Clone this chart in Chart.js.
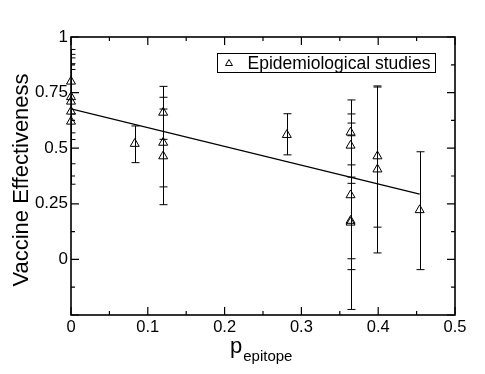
<!DOCTYPE html>
<html>
<head>
<meta charset="utf-8">
<script src="https://cdn.jsdelivr.net/npm/chart.js@4/dist/chart.umd.min.js"></script>
<style>
  html, body { margin: 0; padding: 0; background: #fff; }
  canvas { display: block; }
</style>
</head>
<body>
<canvas id="c" width="485" height="374"></canvas>
<script>
// ---- data ----
const pEpitope      = [0, 0, 0, 0, 0, 0.083, 0.12, 0.12, 0.12, 0.281, 0.364, 0.364, 0.364, 0.364, 0.364, 0.399, 0.399, 0.454];
const effectiveness = [0.80, 0.73, 0.71, 0.665, 0.62, 0.52, 0.66, 0.525, 0.464, 0.56, 0.571, 0.512, 0.289, 0.174, 0.166, 0.464, 0.405, 0.222];
const lowerCI       = [0.654, 0.539, 0.569, 0.43, 0.338, 0.435, 0.54, 0.326, 0.246, 0.47, 0.425, 0.37, -0.046, 0.003, -0.225, 0.145, 0.029, -0.046];
const upperCI       = [0.944, 0.922, 0.854, 0.906, 0.88, 0.60, 0.778, 0.729, 0.676, 0.655, 0.717, 0.654, 0.613, 0.342, 0.556, 0.775, 0.78, 0.484];
const fitX = [0, 0.454];
const fitY = [0.677, 0.293];
const xTickValues = [0, 0.1, 0.2, 0.3, 0.4, 0.5];
const xTickLabels = ['0', '0.1', '0.2', '0.3', '0.4', '0.5'];
const yTickValues = [-0.25, 0, 0.25, 0.5, 0.75, 1];
const yTickLabels = ['', '0', '0.25', '0.5', '0.75', '1'];
const xMinorTicks = [0.05, 0.15, 0.25, 0.35, 0.45];
const yMinorTicks = [-0.125, 0.125, 0.375, 0.625, 0.875];
const seriesLabel = 'Epidemiological studies';
const xTitleMain = 'p';
const xTitleSub = 'epitope';
const yTitle = 'Vaccine Effectiveness';

const FONT = '"Liberation Sans", Arial, Helvetica, sans-serif';

function labelFor(values, labels, v) {
  for (let i = 0; i < values.length; i++) if (Math.abs(values[i] - v) < 1e-6) return labels[i];
  return '';
}

const decor = {
  id: 'decor',
  beforeDatasetsDraw(chart) {
    const ctx = chart.ctx, a = chart.chartArea;
    const xs = chart.scales.x, ys = chart.scales.y;
    ctx.save();
    ctx.beginPath();
    ctx.rect(a.left, a.top, a.right - a.left, a.bottom - a.top);
    ctx.clip();
    ctx.strokeStyle = '#000';
    ctx.lineWidth = 1;
    const cap = 4;
    for (let i = 0; i < pEpitope.length; i++) {
      const px = Math.round(xs.getPixelForValue(pEpitope[i])) + 0.5;
      const y1 = ys.getPixelForValue(lowerCI[i]);
      const y2 = ys.getPixelForValue(upperCI[i]);
      ctx.beginPath();
      ctx.moveTo(px, y1); ctx.lineTo(px, y2);
      ctx.moveTo(px - cap, y1); ctx.lineTo(px + cap, y1);
      ctx.moveTo(px - cap, y2); ctx.lineTo(px + cap, y2);
      ctx.stroke();
    }
    ctx.restore();
  },
  afterDraw(chart) {
    const ctx = chart.ctx, a = chart.chartArea;
    const xs = chart.scales.x, ys = chart.scales.y;
    ctx.save();
    ctx.strokeStyle = '#000';
    // ticks (inward, all four sides)
    ctx.lineWidth = 1.2;
    const major = 8, minor = 4;
    const tickX = (v, len) => {
      const px = xs.getPixelForValue(v);
      ctx.beginPath();
      ctx.moveTo(px, a.bottom); ctx.lineTo(px, a.bottom - len);
      ctx.moveTo(px, a.top); ctx.lineTo(px, a.top + len);
      ctx.stroke();
    };
    const tickY = (v, len) => {
      const py = ys.getPixelForValue(v);
      ctx.beginPath();
      ctx.moveTo(a.left, py); ctx.lineTo(a.left + len, py);
      ctx.moveTo(a.right, py); ctx.lineTo(a.right - len, py);
      ctx.stroke();
    };
    xTickValues.forEach(v => tickX(v, major));
    xMinorTicks.forEach(v => tickX(v, minor));
    yTickValues.forEach(v => tickY(v, major));
    yMinorTicks.forEach(v => tickY(v, minor));
    // frame
    ctx.lineWidth = 1.6;
    ctx.strokeRect(a.left, a.top, a.right - a.left, a.bottom - a.top);

    // legend
    ctx.lineWidth = 1;
    ctx.strokeRect(217.5, 53.5, 218, 19);
    const r = 4;
    const lx = 229, ly = 63.5;
    ctx.beginPath();
    for (let k = 0; k < 3; k++) {
      const ang = k * 2 * Math.PI / 3;
      const px = lx + Math.sin(ang) * r, py = ly - Math.cos(ang) * r;
      if (k === 0) ctx.moveTo(px, py); else ctx.lineTo(px, py);
    }
    ctx.closePath();
    ctx.stroke();
    ctx.fillStyle = '#000';
    ctx.font = '17.5px ' + FONT;
    ctx.textBaseline = 'alphabetic';
    ctx.textAlign = 'left';
    ctx.fillText(seriesLabel, 247.5, 68.5);

    // x title
    ctx.font = '22px ' + FONT;
    ctx.fillText(xTitleMain, 230, 353);
    const pw = ctx.measureText(xTitleMain).width;
    ctx.font = '15px ' + FONT;
    ctx.fillText(xTitleSub, 230 + pw + 1, 361);

    // y title
    ctx.save();
    ctx.translate(28, 180);
    ctx.rotate(-Math.PI / 2);
    ctx.font = '22px ' + FONT;
    ctx.textAlign = 'center';
    ctx.textBaseline = 'alphabetic';
    ctx.fillText(yTitle, 0, 0);
    ctx.restore();

    ctx.restore();
  }
};

new Chart(document.getElementById('c'), {
  type: 'scatter',
  data: {
    datasets: [
      {
        label: seriesLabel,
        data: pEpitope.map((x, i) => ({ x: x, y: effectiveness[i] })),
        pointStyle: 'triangle',
        pointRadius: 5.2,
        pointHoverRadius: 5.2,
        borderColor: '#000',
        backgroundColor: 'rgba(0,0,0,0)',
        borderWidth: 1,
        clip: false,
        order: 1
      },
      {
        type: 'line',
        label: 'fit',
        data: fitX.map((x, i) => ({ x: x, y: fitY[i] })),
        borderColor: '#000',
        borderWidth: 1.3,
        pointRadius: 0,
        fill: false,
        order: 2
      }
    ]
  },
  options: {
    responsive: false,
    animation: false,
    devicePixelRatio: 1,
    layout: { padding: { top: 37, right: 30, left: 0, bottom: 0 } },
    plugins: { legend: { display: false }, tooltip: { enabled: false } },
    scales: {
      x: {
        type: 'linear',
        min: 0, max: 0.5,
        grid: { display: false, drawTicks: false },
        border: { display: false },
        ticks: {
          stepSize: 0.1,
          padding: 3,
          color: '#000',
          font: { family: FONT, size: 16.5 },
          maxRotation: 0,
          callback: v => labelFor(xTickValues, xTickLabels, v)
        },
        afterFit: s => { s.height = 59; }
      },
      y: {
        type: 'linear',
        min: -0.25, max: 1,
        grid: { display: false, drawTicks: false },
        border: { display: false },
        ticks: {
          stepSize: 0.25,
          padding: 3,
          color: '#000',
          font: { family: FONT, size: 17 },
          callback: v => labelFor(yTickValues, yTickLabels, v)
        },
        afterFit: s => { s.width = 71; }
      }
    }
  },
  plugins: [decor]
});
</script>
</body>
</html>
